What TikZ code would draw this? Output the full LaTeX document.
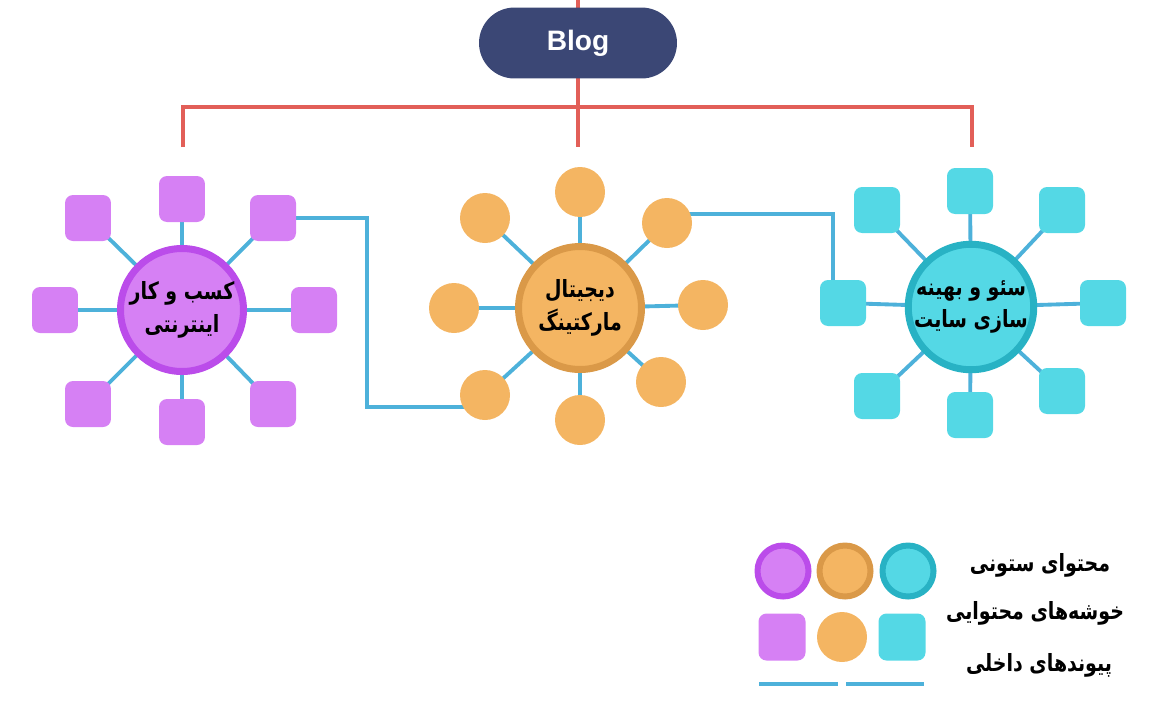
\documentclass[tikz,border=0pt]{standalone}
\usepackage{fontspec}
\setmainfont{Liberation Sans}
\newfontfamily\farsifont[Script=Arabic, FakeStretch=0.8]{DejaVu Sans}
\TeXXeTstate=1
\newcommand{\fa}[1]{{\farsifont\beginR #1\endR}}
\usepackage{xcolor}
\usepackage{tikz}
\usetikzlibrary{backgrounds}
\definecolor{blogbg}{RGB}{59,71,117}
\definecolor{treered}{RGB}{226,95,88}
\definecolor{linkblue}{RGB}{77,177,218}
\definecolor{pufill}{RGB}{214,128,244}
\definecolor{puedge}{RGB}{187,76,234}
\definecolor{orfill}{RGB}{244,181,98}
\definecolor{oredge}{RGB}{218,153,72}
\definecolor{cyfill}{RGB}{84,216,229}
\definecolor{cyedge}{RGB}{40,178,196}

\begin{document}
\begin{tikzpicture}[x=0.02cm, y=-0.02cm,
  root/.style={rectangle, rounded corners=0.71cm, minimum width=3.96cm, minimum height=1.42cm, fill=blogbg, text=white, font=\bfseries\fontsize{16}{18}\selectfont},
  hub/.style={circle, minimum size=2.46cm, line width=0.14cm, inner sep=0pt, align=center, font=\bfseries\fontsize{13.5}{18.5}\selectfont},
  sq/.style={rectangle, rounded corners=0.16cm, minimum size=0.92cm, inner sep=0pt},
  dot/.style={circle, minimum size=1cm, inner sep=0pt, fill=orfill},
  key/.style={circle, minimum size=1.02cm, line width=0.12cm, inner sep=0pt},
  note/.style={font=\bfseries\fontsize{13.5}{16}\selectfont},
  tree/.style={line width=1.9pt, treered},
  spoke/.style={line width=2.2pt, linkblue},
  link/.style={line width=1.9pt, linkblue}
]
\useasboundingbox (0,0) rectangle (1158,714);

% root
\node[root] (blog) at (578,43) {Blog};
\coordinate (top) at (578,0);
\coordinate (br) at (578,107);
\coordinate (dropL) at (183,147);
\coordinate (dropM) at (578,147);
\coordinate (dropR) at (972,147);

% hubs
\node[hub, fill=pufill, draw=puedge] (hubL) at (182,310) {\fa{کسب و کار}\\\fa{اینترنتی}};
\node[hub, fill=orfill, draw=oredge] (hubM) at (580,308) {\fa{دیجیتال}\\\fa{مارکتینگ}};
\node[hub, fill=cyfill, draw=cyedge] (hubR) at (971,307) {\fa{سئو و بهینه}\\\fa{سازی سایت}};

% clusters
\node[sq, fill=pufill] (bz1) at (182,199) {};
\node[sq, fill=pufill] (bz2) at (273,218) {};
\node[sq, fill=pufill] (bz3) at (314,310) {};
\node[sq, fill=pufill] (bz4) at (273,404) {};
\node[sq, fill=pufill] (bz5) at (182,422) {};
\node[sq, fill=pufill] (bz6) at (88,404) {};
\node[sq, fill=pufill] (bz7) at (55,310) {};
\node[sq, fill=pufill] (bz8) at (88,218) {};

\node[dot] (dm1) at (580,192) {};
\node[dot] (dm2) at (667,223) {};
\node[dot] (dm3) at (703,305) {};
\node[dot] (dm4) at (661,382) {};
\node[dot] (dm5) at (580,420) {};
\node[dot] (dm6) at (485,395) {};
\node[dot] (dm7) at (454,308) {};
\node[dot] (dm8) at (485,218) {};

\node[sq, fill=cyfill] (seo1) at (970,191) {};
\node[sq, fill=cyfill] (seo2) at (1062,210) {};
\node[sq, fill=cyfill] (seo3) at (1103,303) {};
\node[sq, fill=cyfill] (seo4) at (1062,391) {};
\node[sq, fill=cyfill] (seo5) at (970,415) {};
\node[sq, fill=cyfill] (seo6) at (877,396) {};
\node[sq, fill=cyfill] (seo7) at (843,303) {};
\node[sq, fill=cyfill] (seo8) at (877,210) {};

\coordinate (k1) at (367,218);
\coordinate (k2) at (367,407);
\coordinate (k3) at (833,214);

% legend
\node[key, fill=pufill, draw=puedge] (lgP) at (783,571) {};
\node[key, fill=orfill, draw=oredge] (lgO) at (845,571) {};
\node[key, fill=cyfill, draw=cyedge] (lgC) at (908,571) {};
\node[sq, fill=pufill, minimum size=0.94cm] (lsP) at (782,637) {};
\node[dot] (lsO) at (842,637) {};
\node[sq, fill=cyfill, minimum size=0.94cm] (lsC) at (902,637) {};
\node[note] (t1) at (1040,565) {\fa{محتوای ستونی}};
\node[note] (t2) at (1035,613) {\fa{خوشه‌های محتوایی}};
\node[note] (t3) at (1039,665) {\fa{پیوندهای داخلی}};

\begin{scope}[on background layer]
\draw[tree] (top) -- (dropM);
\draw[tree] (dropL) |- (br) -| (dropR);
\foreach \i in {1,...,8} {
  \draw[spoke] (hubL.center) -- (bz\i.center);
  \draw[spoke] (hubM.center) -- (dm\i.center);
  \draw[spoke] (hubR.center) -- (seo\i.center);
}
\draw[link] (bz2.center) -- (k1) -- (k2) -- (dm6 |- k2);
\draw[link] (dm2.center |- k3) -- (k3) -- (k3 |- seo7);
\end{scope}
\draw[link] (759,684) -- (838,684);
\draw[link] (846,684) -- (924,684);
\end{tikzpicture}
\end{document}
